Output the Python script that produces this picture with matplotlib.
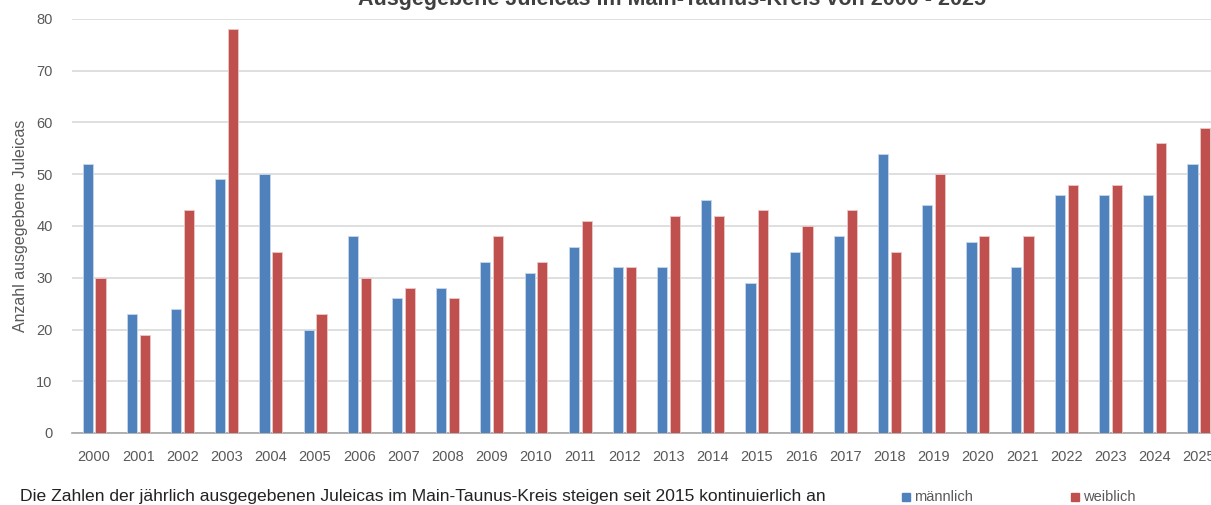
import numpy as np
import matplotlib.pyplot as plt

years = [str(y) for y in range(2000, 2026)]
maennlich = [52, 23, 24, 49, 50, 20, 38, 26, 28, 33, 31, 36, 32, 32, 45, 29, 35, 38, 54, 44, 37, 32, 46, 46, 46, 52]
weiblich = [30, 19, 43, 78, 35, 23, 30, 28, 26, 38, 33, 41, 32, 42, 42, 43, 40, 43, 35, 50, 38, 38, 48, 48, 56, 59]

plt.rcParams['font.family'] = ['Liberation Sans', 'DejaVu Sans']
grey = '#595959'

fig = plt.figure(figsize=(12.11, 5.05), dpi=100)
ax = fig.add_axes([72 / 1211, 1 - 433 / 505, 1 - 72 / 1211, (433 - 19) / 505])

x = np.arange(len(years))
w = 0.23
ax.bar(x - 0.145, maennlich, w, color='#4F81BD', edgecolor='#C9D7EA', linewidth=0.6, zorder=3)
ax.bar(x + 0.145, weiblich, w, color='#C0504D', edgecolor='#EBC9C8', linewidth=0.6, zorder=3)

ax.set_xlim(-0.5, -0.5 + (1211 - 72) / 44.19)
ax.set_ylim(0, 80)
ax.set_yticks(range(0, 81, 10))
ax.set_xticks(x)
ax.set_xticklabels(years)
ax.grid(axis='y', color='#D9D9D9', linewidth=1.2, zorder=0)
for s in ['top', 'right', 'left']:
    ax.spines[s].set_visible(False)
ax.spines['bottom'].set_color('#A6A6A6')
ax.spines['bottom'].set_linewidth(1.2)
ax.tick_params(axis='both', length=0, colors=grey, labelsize=10.5)
ax.tick_params(axis='y', pad=14)
ax.tick_params(axis='x', pad=12)
ax.set_ylabel('Anzahl ausgegebene Juleicas', color=grey, fontsize=11.5, labelpad=6)

# title is cut at the top edge, as in the original screenshot
fig.text(672 / 1211, 1 - 0 / 505, 'Ausgegebene Juleicas im Main-Taunus-Kreis von 2000 - 2025',
         ha='center', va='center', fontsize=15.5, fontweight='bold', color='#404040')

fig.text(20 / 1211, 1 - 497 / 505, 'Die Zahlen der jährlich ausgegebenen Juleicas im Main-Taunus-Kreis steigen seit 2015 kontinuierlich an',
         ha='left', va='center', fontsize=12.6, color='#222222')

fig.patches.append(plt.Rectangle((902 / 1211, 1 - 501 / 505), 8 / 1211, 8 / 505,
                                 transform=fig.transFigure, color='#4F81BD'))
fig.text(914 / 1211, 1 - 497 / 505, 'männlich', ha='left', va='center', fontsize=10.5, color=grey)
fig.patches.append(plt.Rectangle((1071 / 1211, 1 - 501 / 505), 8 / 1211, 8 / 505,
                                 transform=fig.transFigure, color='#C0504D'))
fig.text(1083 / 1211, 1 - 497 / 505, 'weiblich', ha='left', va='center', fontsize=10.5, color=grey)

fig.savefig('out.png', dpi=100)
